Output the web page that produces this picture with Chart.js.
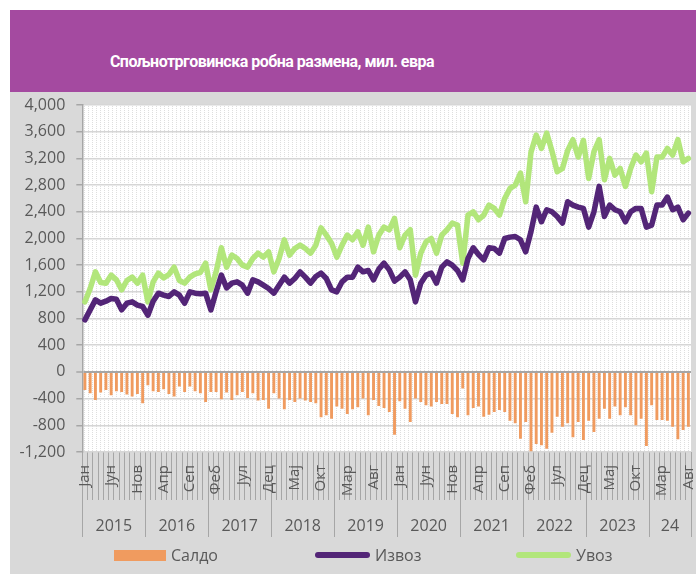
<!DOCTYPE html>
<html lang="sr">
<head>
<meta charset="utf-8">
<title>Спољнотрговинска робна размена</title>
<script src="https://cdn.jsdelivr.net/npm/chart.js@4.4.1/dist/chart.umd.min.js"></script>
<style>
  html, body { margin: 0; padding: 0; background: #fff; }
  #okvir { position: relative; width: 696px; height: 574px; overflow: hidden; font-family: "Open Sans", sans-serif; }
  #naslov { position: absolute; left: 10px; top: 10px; width: 686px; height: 82px; background: #a44aa0; }
  #naslov span { position: absolute; left: 262px; top: 51px; transform: translate(-50%, -50%); color: #fff; font: bold 16px Roboto, sans-serif; letter-spacing: -0.5px; white-space: nowrap; }
  #pozadina { position: absolute; left: 10px; top: 92px; width: 686px; height: 482px; background: #d9d9d9; }
  #grafik { position: absolute; left: 0; top: 0; }
  #legenda { position: absolute; left: 0; top: 545px; width: 696px; height: 20px; }
  .stavka { position: absolute; top: 0; height: 20px; display: flex; align-items: center; color: #595959; font-size: 16px; }
  .znak { display: inline-block; margin-right: 5px; }
</style>
</head>
<body>
<div id="okvir">
  <div id="naslov"><span>Спољнотрговинска робна размена, мил. евра</span></div>
  <div id="pozadina"></div>
  <canvas id="grafik" width="696" height="574"></canvas>
  <div id="legenda"></div>
</div>
<script>
// Месеци и године (2015 - август 2024)
const meseci = ['Јан', 'Феб', 'Мар', 'Апр', 'Мај', 'Јун', 'Јул', 'Авг', 'Сеп', 'Окт', 'Нов', 'Дец'];
const godine = ['2015', '2016', '2017', '2018', '2019', '2020', '2021', '2022', '2023', '24'];
const brojMeseci = [12, 12, 12, 12, 12, 12, 12, 12, 12, 8];
const korakOznake = 5; // ознака месеца на сваких 5 месеци

// Извоз, мил. евра
const izvoz = [
  780, 930, 1080, 1030, 1060, 1100, 1090, 930, 1030, 1050, 1000, 980,
  850, 1060, 1180, 1150, 1130, 1200, 1150, 1030, 1200, 1180, 1170, 1180,
  930, 1200, 1450, 1260, 1330, 1350, 1300, 1180, 1380, 1350, 1300, 1250,
  1180, 1300, 1420, 1330, 1400, 1500, 1420, 1330, 1430, 1480, 1400, 1230,
  1200, 1350, 1420, 1420, 1570, 1500, 1520, 1380, 1540, 1630, 1530, 1360,
  1420, 1500, 1380, 1050, 1330, 1450, 1480, 1330, 1570, 1650, 1600, 1520,
  1380, 1700, 1860, 1760, 1680, 1860, 1850, 1780, 2000, 2020, 2030, 1980,
  1800, 2100, 2470, 2250, 2430, 2400, 2330, 2230, 2550, 2500, 2470, 2450,
  2170, 2400, 2780, 2330, 2500, 2430, 2400, 2250, 2400, 2450, 2450, 2170,
  2200, 2500, 2500, 2620, 2430, 2470, 2280, 2380
];

// Увоз, мил. евра
const uvoz = [
  1050, 1250, 1500, 1340, 1330, 1450, 1380, 1230, 1370, 1420, 1330, 1450,
  1050, 1350, 1480, 1410, 1460, 1570, 1370, 1330, 1420, 1470, 1490, 1630,
  1230, 1500, 1860, 1570, 1750, 1700, 1600, 1570, 1700, 1780, 1720, 1800,
  1500, 1700, 1980, 1750, 1850, 1900, 1850, 1780, 1900, 2160, 2050, 1930,
  1720, 1900, 2050, 1980, 2100, 1900, 2170, 1800, 2050, 2170, 2130, 2300,
  1860, 2050, 2130, 1450, 1780, 1950, 2000, 1780, 2050, 2130, 2230, 2200,
  1630, 2350, 2400, 2280, 2350, 2500, 2450, 2350, 2600, 2750, 2800, 2980,
  2550, 3290, 3550, 3350, 3580, 3310, 3000, 3050, 3320, 3480, 3220, 3470,
  2900, 3300, 3480, 2880, 3200, 2950, 3050, 2780, 3050, 3250, 3150, 3280,
  2700, 3220, 3220, 3350, 3250, 3480, 3150, 3200
];

// Салдо, мил. евра
const saldo = [
  -270, -320, -420, -310, -270, -350, -290, -300, -340, -370, -330, -470,
  -200, -290, -300, -260, -330, -370, -220, -300, -220, -290, -320, -450,
  -300, -300, -410, -310, -420, -350, -300, -390, -320, -430, -420, -550,
  -320, -400, -560, -420, -450, -400, -430, -450, -470, -680, -650, -700,
  -520, -550, -630, -560, -530, -400, -650, -420, -510, -540, -600, -940,
  -440, -550, -750, -400, -450, -500, -520, -450, -480, -480, -630, -680,
  -250, -650, -540, -520, -670, -640, -600, -570, -600, -730, -770, -1000,
  -750, -1190, -1080, -1100, -1150, -910, -670, -820, -770, -980, -750, -1020,
  -730, -900, -700, -550, -700, -520, -650, -530, -650, -800, -700, -1110,
  -500, -720, -720, -730, -820, -1010, -870, -820
];

// Ознаке категорија и границе година
const oznake = [];
const granice = [0];
const sredine = [];
brojMeseci.forEach(n => {
  for (let m = 0; m < n; m++) oznake.push(meseci[m]);
  const pocetak = granice[granice.length - 1];
  sredine.push(pocetak + n / 2);
  granice.push(pocetak + n);
});
const ukupno = oznake.length;

const sivaSlova = '#595959';
const font16 = { family: 'Open Sans', size: 16 };
const vrednostTika = c => (c.tick ? c.tick.value : null);

// Бела површина са тачкастим узорком испод графика
const povrsina = {
  id: 'povrsina',
  beforeDraw(chart) {
    const { ctx, chartArea: a } = chart;
    const uzorak = document.createElement('canvas');
    uzorak.width = 4;
    uzorak.height = 2;
    const uc = uzorak.getContext('2d');
    uc.fillStyle = '#dedede';
    uc.fillRect(0, 0, 1, 1);
    ctx.save();
    ctx.fillStyle = '#fff';
    ctx.fillRect(a.left, a.top, a.right - a.left, a.bottom - a.top);
    ctx.fillStyle = ctx.createPattern(uzorak, 'repeat');
    ctx.fillRect(a.left, a.top, a.right - a.left, a.bottom - a.top);
    ctx.restore();
  }
};

const grafik = new Chart(document.getElementById('grafik'), {
  type: 'bar',
  data: {
    labels: oznake,
    datasets: [
      {
        label: 'Салдо',
        data: saldo,
        backgroundColor: '#f09b5f',
        barPercentage: 0.55,
        categoryPercentage: 1
      },
      {
        type: 'line',
        label: 'Извоз',
        data: izvoz,
        borderColor: '#532577',
        backgroundColor: '#532577',
        borderWidth: 5.5,
        pointRadius: 0,
        tension: 0,
        borderJoinStyle: 'round',
        borderCapStyle: 'round'
      },
      {
        type: 'line',
        label: 'Увоз',
        data: uvoz,
        borderColor: '#b2e67b',
        backgroundColor: '#b2e67b',
        borderWidth: 5.5,
        pointRadius: 0,
        tension: 0,
        borderJoinStyle: 'round',
        borderCapStyle: 'round'
      }
    ]
  },
  options: {
    responsive: false,
    animation: false,
    layout: { padding: { left: 10, right: 5, top: 105, bottom: 37 } },
    plugins: {
      legend: { display: false },
      title: { display: false },
      tooltip: { enabled: false }
    },
    scales: {
      x: {
        type: 'category',
        position: 'bottom',
        weight: 0,
        offset: true,
        grid: { offset: true, drawOnChartArea: false, drawTicks: true, tickLength: 48, tickColor: '#a6a6a6', tickWidth: 1 },
        border: { display: false },
        ticks: {
          autoSkip: false,
          minRotation: 90,
          maxRotation: 90,
          padding: -35,
          color: sivaSlova,
          font: { family: 'Open Sans', size: 15 },
          callback: function (v, i) { return i % korakOznake === 0 ? this.getLabelForValue(v) : ''; }
        },
        afterFit(s) { s.height = 48; s.paddingLeft = 0; s.paddingRight = 0; }
      },
      godina: {
        type: 'linear',
        position: 'bottom',
        weight: 1,
        min: 0,
        max: ukupno,
        offset: false,
        afterBuildTicks(s) {
          s.ticks = granice.concat(sredine).sort((a, b) => a - b).map(v => ({ value: v }));
        },
        grid: {
          offset: false,
          drawOnChartArea: false,
          drawTicks: true,
          tickLength: 37,
          tickWidth: 1,
          tickColor: c => granice.includes(vrednostTika(c)) ? '#a6a6a6' : 'rgba(0,0,0,0)'
        },
        border: { display: false },
        ticks: {
          autoSkip: false,
          minRotation: 0,
          maxRotation: 0,
          padding: -20,
          color: sivaSlova,
          font: font16,
          callback: v => { const k = sredine.indexOf(v); return k >= 0 ? godine[k] : ''; }
        },
        afterFit(s) { s.height = 37; s.paddingLeft = 0; s.paddingRight = 0; }
      },
      y: {
        min: -1200,
        max: 4000,
        ticks: {
          stepSize: 400,
          padding: 11,
          color: sivaSlova,
          font: font16,
          callback: v => v.toLocaleString('en-US')
        },
        grid: {
          color: c => vrednostTika(c) === 0 ? '#a6a6a6' : '#d6d6d6',
          lineWidth: c => vrednostTika(c) === 0 ? 2 : 1.5,
          tickLength: 6,
          tickColor: '#a6a6a6',
          tickWidth: 1.5
        },
        border: { display: true, color: '#a6a6a6', width: 1.5 },
        afterFit(s) { s.width = 72.3; }
      }
    }
  },
  plugins: [povrsina]
});

// Легенда испод графика
const legendaX = [114, 315, 516];
const legenda = document.getElementById('legenda');
grafik.data.datasets.forEach((ds, i) => {
  const stavka = document.createElement('div');
  stavka.className = 'stavka';
  stavka.style.left = legendaX[i] + 'px';
  const znak = document.createElement('span');
  znak.className = 'znak';
  if (ds.type === 'line') {
    znak.style.width = '55px';
    znak.style.height = '6px';
    znak.style.borderRadius = '3px';
  } else {
    znak.style.width = '52px';
    znak.style.height = '11px';
  }
  znak.style.background = ds.backgroundColor;
  const tekst = document.createElement('span');
  tekst.textContent = ds.label;
  stavka.appendChild(znak);
  stavka.appendChild(tekst);
  legenda.appendChild(stavka);
});
</script>
</body>
</html>
